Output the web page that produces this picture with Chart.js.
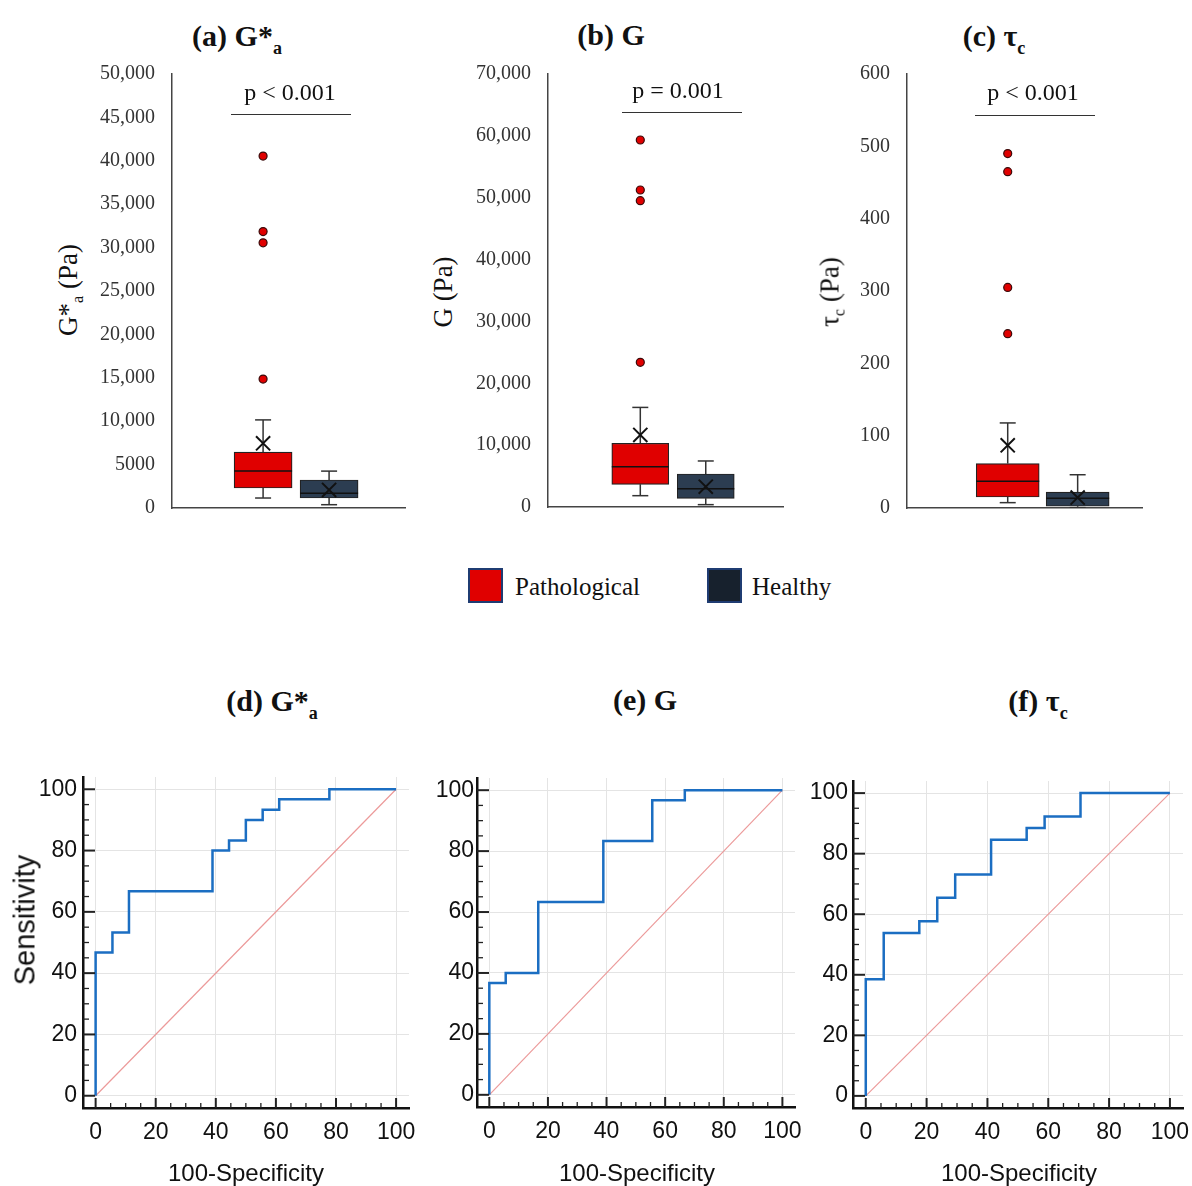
<!DOCTYPE html>
<html>
<head>
<meta charset="utf-8">
<script src="https://cdn.jsdelivr.net/npm/chart.js@4.4.1/dist/chart.umd.min.js"></script>
<style>
body { margin: 0; background: #fff; }
#page { position: relative; width: 1192px; height: 1186px; overflow: hidden; background: #fff; }
canvas { position: absolute; }
.t { position: absolute; white-space: nowrap; transform: translate(-50%, -50%); }
.serif { font-family: "Liberation Serif", "Times New Roman", serif; color: #111; }
.sans { font-family: "Liberation Sans", Arial, sans-serif; color: #111; }
.title { font-weight: bold; font-size: 30px; }
.sub { font-size: 18px; position: relative; top: 8px; }
.ysub { font-size: 16px; position: relative; top: 6px; }
.rot { transform: translate(-50%, -50%) rotate(-90deg); }
.pline { position: absolute; height: 0; border-top: 1.5px solid #333; }
.swatch { position: absolute; width: 31px; height: 31px; border: 2px solid #1f3c72; }
</style>
</head>
<body>
<div id="page">
  <canvas id="boxA"></canvas>
  <canvas id="boxB"></canvas>
  <canvas id="boxC"></canvas>
  <canvas id="rocD"></canvas>
  <canvas id="rocE"></canvas>
  <canvas id="rocF"></canvas>

  <div class="t serif title" style="left:237px;top:36px">(a) G*<span class="sub">a</span></div>
  <div class="t serif title" style="left:611px;top:35px">(b) G</div>
  <div class="t serif title" style="left:994px;top:36px">(c) τ<span class="sub">c</span></div>

  <div class="t serif rot" style="left:68px;top:290px;font-size:27px">G*<span class="ysub">a</span> (Pa)</div>
  <div class="t serif rot" style="left:443px;top:292px;font-size:27px">G (Pa)</div>
  <div class="t serif rot" style="left:830px;top:292px;font-size:27px">τ<span class="ysub">c</span> (Pa)</div>

  <div class="t serif" style="left:290px;top:92px;font-size:24px">p &lt; 0.001</div>
  <div class="pline" style="left:231px;top:114px;width:120px"></div>
  <div class="t serif" style="left:678px;top:90px;font-size:24px">p = 0.001</div>
  <div class="pline" style="left:622px;top:112px;width:120px"></div>
  <div class="t serif" style="left:1033px;top:92px;font-size:24px">p &lt; 0.001</div>
  <div class="pline" style="left:975px;top:115px;width:120px"></div>

  <div class="swatch" style="left:468px;top:568px;background:#e00000"></div>
  <div class="serif" style="position:absolute;left:515px;top:572px;font-size:25px;line-height:30px">Pathological</div>
  <div class="swatch" style="left:707px;top:568px;background:#17212d"></div>
  <div class="serif" style="position:absolute;left:752px;top:572px;font-size:25px;line-height:30px">Healthy</div>

  <div class="t serif title" style="left:272px;top:701px">(d) G*<span class="sub">a</span></div>
  <div class="t serif title" style="left:645px;top:700px">(e) G</div>
  <div class="t serif title" style="left:1038px;top:701px">(f) τ<span class="sub">c</span></div>

  <div class="t sans rot" style="left:25px;top:920px;font-size:29px">Sensitivity</div>
  <div class="t sans" style="left:246px;top:1173px;font-size:24px">100-Specificity</div>
  <div class="t sans" style="left:637px;top:1173px;font-size:24px">100-Specificity</div>
  <div class="t sans" style="left:1019px;top:1173px;font-size:24px">100-Specificity</div>
</div>

<script>
// box plot groups
var boxGroups = ["Pathological", "Healthy"];
var boxColors = ["#e00000", "#2c3d51"];

// [whisker low, Q1, median, Q3, whisker high, mean]
var gaPathological = [1150, 2300, 4250, 6450, 10150, 7450];
var gaHealthy = [380, 1150, 1700, 3230, 4250, 2080];
var gaOutliers = [40550, 31850, 30550, 14850];

var gPathological = [1830, 3670, 6520, 10300, 16100, 11650];
var gHealthy = [380, 1400, 2960, 5340, 7440, 3280];
var gOutliers = [59330, 51250, 49520, 23390];

var tauPathological = [7.4, 15.2, 37, 61.4, 117.6, 86.7];
var tauHealthy = [0.5, 2.4, 13.4, 22, 46, 14.4];
var tauOutliers = [490, 465, 305, 241];

// ROC curves: 100-specificity (x) vs sensitivity (y)
var rocGaX = [0, 0, 5.6, 5.6, 11.1, 11.1, 38.9, 38.9, 44.4, 44.4, 50, 50, 55.6, 55.6, 61.1, 61.1, 77.8, 77.8, 100];
var rocGaY = [0, 46.7, 46.7, 53.3, 53.3, 66.7, 66.7, 80, 80, 83.3, 83.3, 90, 90, 93.3, 93.3, 96.7, 96.7, 100, 100];

var rocGX = [0, 0, 5.6, 5.6, 16.7, 16.7, 38.9, 38.9, 55.6, 55.6, 66.7, 66.7, 100];
var rocGY = [0, 36.7, 36.7, 40, 40, 63.3, 63.3, 83.3, 83.3, 96.7, 96.7, 100, 100];

var rocTauX = [0, 0, 5.9, 5.9, 17.6, 17.6, 23.5, 23.5, 29.4, 29.4, 41.2, 41.2, 52.9, 52.9, 58.8, 58.8, 70.6, 70.6, 100];
var rocTauY = [0, 38.5, 38.5, 53.8, 53.8, 57.7, 57.7, 65.4, 65.4, 73.1, 73.1, 84.6, 84.6, 88.5, 88.5, 92.3, 92.3, 100, 100];

var chanceX = [0, 100];
var chanceY = [0, 100];
var rocTicks = [0, 20, 40, 60, 80, 100];

function fmtTick(v) {
    return v >= 10000 ? v.toLocaleString("en-US") : String(v);
}

// keep the chart area exactly where the layout asks for it
function fixY(w) {
    return function (s) { s.width = w; s.paddingTop = 0; s.paddingBottom = 0; };
}
function fixX(h) {
    return function (s) { s.height = h; s.paddingLeft = 0; s.paddingRight = 0; };
}

function makeBox(id, stats, outliers, yMax, yStep, v) {
    var cv = document.getElementById(id);
    var yW = 82, pad = 14, padR = 10;
    cv.style.left = (v.left - yW) + "px";
    cv.style.top = (v.top - pad) + "px";
    cv.width = yW + v.w + padR;
    cv.height = pad + v.h + pad;

    var pos = boxGroups.map(function (g, i) { return i + 1; });
    var boxes = [], whiskers = [], caps = [], medians = [], means = [];
    stats.forEach(function (s, i) {
        var x = pos[i];
        boxes.push({ x: x, y: [s[1], s[3]] });
        whiskers.push({ x: x, y: s[0] }, { x: x, y: s[1] }, { x: x, y: null },
                      { x: x, y: s[3] }, { x: x, y: s[4] }, { x: x, y: null });
        caps.push({ x: x, y: s[0] }, { x: x, y: s[4] });
        medians.push({ x: x, y: s[2] });
        means.push({ x: x, y: s[5] });
    });
    var outl = outliers.map(function (o) { return { x: pos[0], y: o }; });

    new Chart(cv, {
        type: "bar",
        data: {
            datasets: [
                { type: "line", data: whiskers, borderColor: "#333", borderWidth: 1.5, pointRadius: 0, spanGaps: false, order: 5 },
                { type: "bar", data: boxes, backgroundColor: boxColors, borderColor: "#222", borderWidth: 1.2,
                  borderSkipped: false, barThickness: v.bw, order: 4 },
                { type: "scatter", data: medians, pointStyle: "line", pointRadius: v.bw / 2, borderColor: "#111", borderWidth: 1.5, order: 3 },
                { type: "scatter", data: caps, pointStyle: "line", pointRadius: 8, borderColor: "#333", borderWidth: 1.5, order: 3 },
                { type: "scatter", data: means, pointStyle: "crossRot", pointRadius: 10, borderColor: "#111", borderWidth: 2, order: 2 },
                { type: "scatter", data: outl, pointRadius: 4, backgroundColor: "#e00000", borderColor: "#3a0a0a", borderWidth: 1.2, order: 1 }
            ]
        },
        options: {
            responsive: false,
            animation: false,
            layout: { autoPadding: false, padding: { top: pad, bottom: pad, right: padR, left: 0 } },
            plugins: { legend: { display: false }, tooltip: { enabled: false } },
            scales: {
                x: {
                    type: "linear", min: v.xMin, max: v.xMax, offset: false,
                    grid: { display: false, drawTicks: false },
                    ticks: { display: false },
                    border: { display: true, color: "#444", width: 1.5 },
                    afterFit: fixX(0)
                },
                y: {
                    min: 0, max: yMax,
                    grid: { display: false, drawTicks: false },
                    border: { display: true, color: "#444", width: 1.5 },
                    ticks: { stepSize: yStep, padding: 17, color: "#333",
                             font: { family: '"Liberation Serif", serif', size: 20 }, callback: fmtTick },
                    afterFit: fixY(yW)
                }
            }
        }
    });
}

var innerTicks = {
    id: "innerTicks",
    afterDraw: function (chart) {
        var ctx = chart.ctx, a = chart.chartArea, x = chart.scales.x, y = chart.scales.y;
        ctx.save();
        ctx.strokeStyle = "#222";
        for (var v = 0; v <= 100; v += 5) {
            var major = v % 20 === 0;
            var px = x.getPixelForValue(v);
            ctx.lineWidth = major ? 2 : 1.3;
            ctx.beginPath();
            ctx.moveTo(px, a.bottom);
            ctx.lineTo(px, a.bottom - (major ? 10 : 5));
            ctx.stroke();
            var py = y.getPixelForValue(v);
            ctx.beginPath();
            ctx.moveTo(a.left, py);
            ctx.lineTo(a.left + (major ? 12 : 6), py);
            ctx.stroke();
        }
        ctx.restore();
    }
};

function makeRoc(id, xs, ys, a, canvasLeft, labelPad, padR) {
    var cv = document.getElementById(id);
    var yW = a.left - canvasLeft, pad = 14, xH = 52;
    cv.style.left = canvasLeft + "px";
    cv.style.top = (a.top - pad) + "px";
    cv.width = yW + (a.right - a.left) + padR;
    cv.height = pad + (a.bottom - a.top) + xH;

    var tickFont = { family: '"Liberation Sans", Arial, sans-serif', size: 23 };
    new Chart(cv, {
        type: "line",
        data: {
            datasets: [
                { data: xs.map(function (x, i) { return { x: x, y: ys[i] }; }),
                  borderColor: "#1b6ec2", borderWidth: 2.5, pointRadius: 0, tension: 0 },
                { data: chanceX.map(function (x, i) { return { x: x, y: chanceY[i] }; }),
                  borderColor: "#ec9a9a", borderWidth: 1.2, pointRadius: 0 }
            ]
        },
        options: {
            responsive: false,
            animation: false,
            layout: { autoPadding: false, padding: { top: pad, right: padR, bottom: 0, left: 0 } },
            plugins: { legend: { display: false }, tooltip: { enabled: false } },
            scales: {
                x: {
                    type: "linear", min: -4.2, max: 104.3,
                    afterBuildTicks: function (s) { s.ticks = rocTicks.map(function (t) { return { value: t }; }); },
                    ticks: { padding: 11, color: "#111", font: tickFont, maxRotation: 0, autoSkip: false },
                    grid: { color: "#e4e4e4", drawTicks: false },
                    border: { color: "#111", width: 2.5 },
                    afterFit: fixX(xH)
                },
                y: {
                    type: "linear", min: -4, max: 104,
                    afterBuildTicks: function (s) { s.ticks = rocTicks.map(function (t) { return { value: t }; }); },
                    ticks: { padding: labelPad, color: "#111", font: tickFont, autoSkip: false },
                    grid: { color: "#e4e4e4", drawTicks: false },
                    border: { color: "#111", width: 2.5 },
                    afterFit: fixY(yW)
                }
            }
        },
        plugins: [innerTicks]
    });
}

makeBox("boxA", [gaPathological, gaHealthy], gaOutliers, 50000, 5000,
        { left: 172, top: 74, w: 233, h: 434, xMin: -0.38, xMax: 3.15, bw: 58 });
makeBox("boxB", [gPathological, gHealthy], gOutliers, 70000, 10000,
        { left: 548, top: 74, w: 235, h: 433, xMin: -0.41, xMax: 3.18, bw: 57 });
makeBox("boxC", [tauPathological, tauHealthy], tauOutliers, 600, 100,
        { left: 907, top: 74, w: 235, h: 434, xMin: -0.44, xMax: 2.92, bw: 63 });

makeRoc("rocD", rocGaX, rocGaY, { left: 83, top: 777, right: 409, bottom: 1108 }, 30, 6, 20);
makeRoc("rocE", rocGX, rocGY, { left: 477, top: 778, right: 795, bottom: 1107 }, 430, 3, 20);
makeRoc("rocF", rocTauX, rocTauY, { left: 853, top: 781, right: 1183, bottom: 1108 }, 805, 5, 9);
</script>
</body>
</html>
